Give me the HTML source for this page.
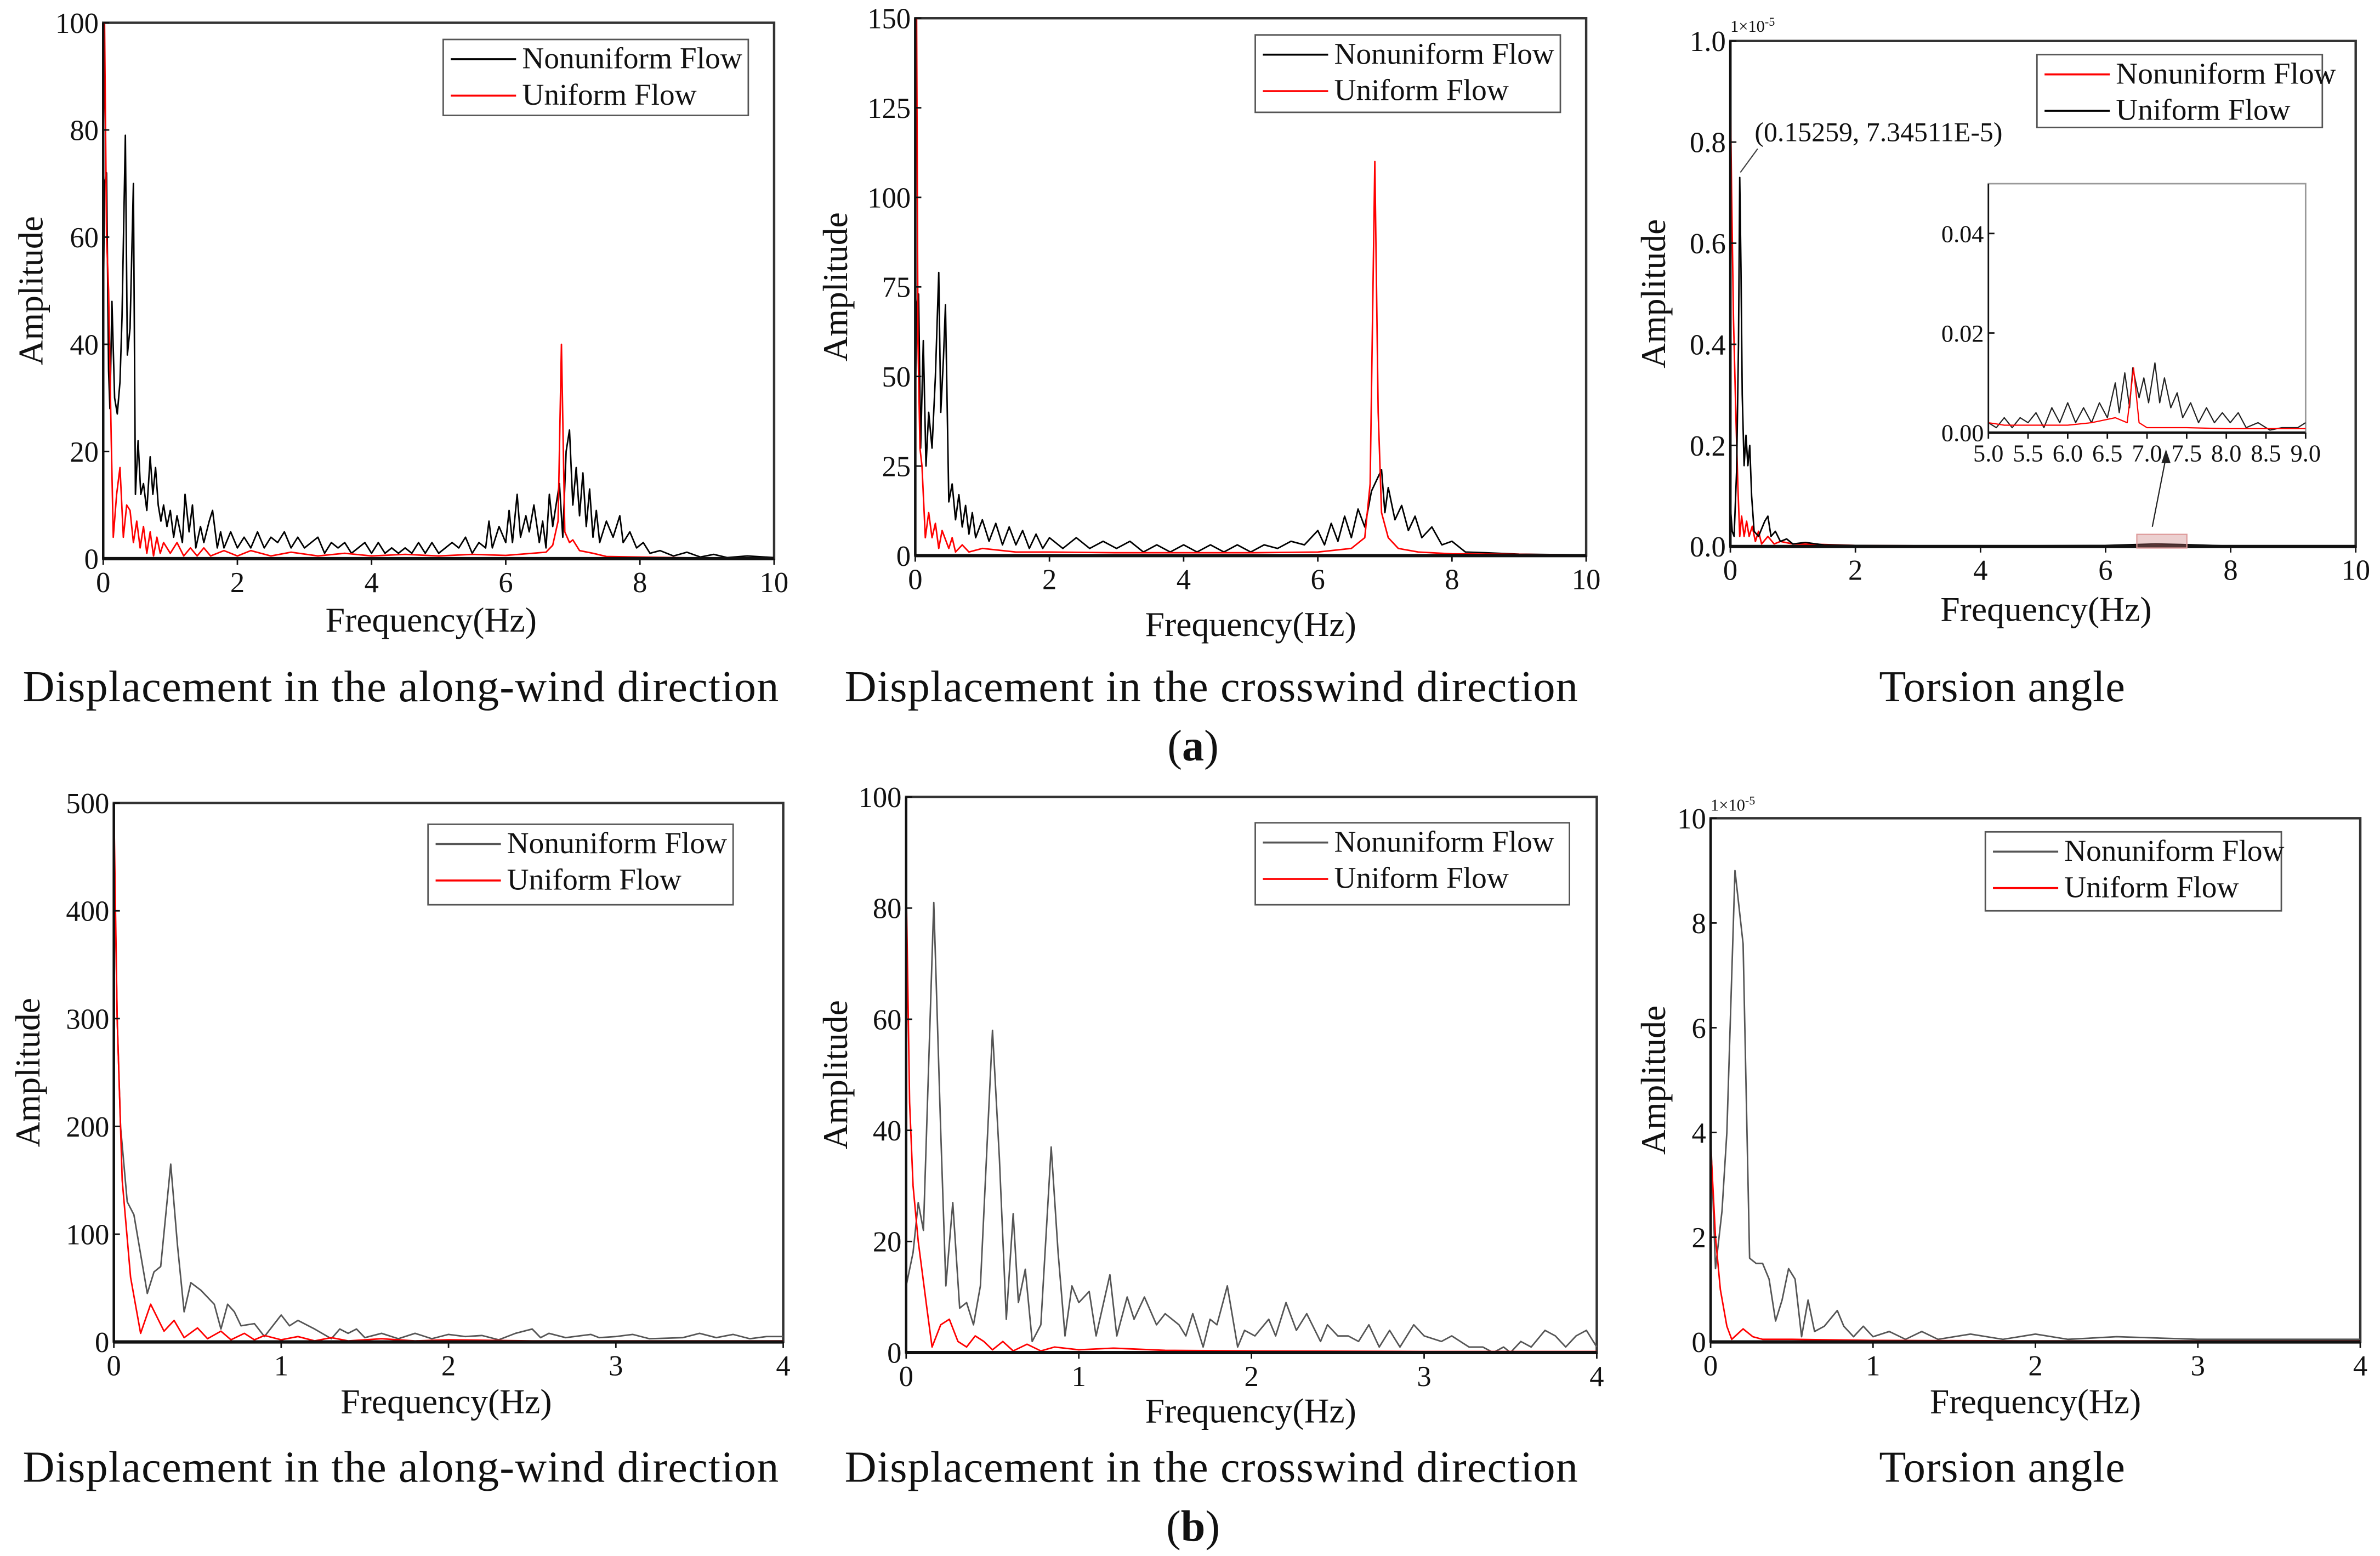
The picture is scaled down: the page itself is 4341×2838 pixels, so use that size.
<!DOCTYPE html>
<html><head><meta charset="utf-8"><style>
html,body{margin:0;padding:0;background:#fff;font-family:'Liberation Serif',serif;}
svg{display:block;font-family:'Liberation Serif',serif;}
svg text{font-family:'Liberation Serif',serif !important;fill:#111;}
</style></head><body>
<svg id="fig" width="4341" height="2838" viewBox="0 0 1568 1025" preserveAspectRatio="none" xmlns="http://www.w3.org/2000/svg" style="font-family:'Liberation Serif',serif">
<g font-size="29">
<text x="264" y="462" text-anchor="middle" textLength="498">Displacement in the along-wind direction</text>
<text x="798" y="462" text-anchor="middle" textLength="483">Displacement in the crosswind direction</text>
<text x="1319" y="462" text-anchor="middle" textLength="162">Torsion angle</text>
<text x="786" y="501" text-anchor="middle">(<tspan font-weight="bold">a</tspan>)</text>
<text x="264" y="976" text-anchor="middle" textLength="498">Displacement in the along-wind direction</text>
<text x="798" y="976" text-anchor="middle" textLength="483">Displacement in the crosswind direction</text>
<text x="1319" y="976" text-anchor="middle" textLength="162">Torsion angle</text>
<text x="786" y="1015" text-anchor="middle">(<tspan font-weight="bold">b</tspan>)</text>
</g>
</svg>
<script>
const a1N=[[0,45],[0.02,70],[0.05,72],[0.08,35],[0.1,28],[0.13,48],[0.17,30],[0.21,27],[0.25,33],[0.28,45],[0.33,79],[0.36,38],[0.4,43],[0.45,70],[0.48,12],[0.52,22],[0.56,12],[0.6,14],[0.65,9],[0.7,19],[0.74,12],[0.78,17],[0.82,10],[0.86,7],[0.9,10],[0.95,6],[1.0,9],[1.05,4],[1.1,8],[1.18,3],[1.22,12],[1.28,5],[1.33,10],[1.38,2],[1.45,6],[1.5,3],[1.58,7],[1.63,9],[1.7,2],[1.75,5],[1.8,2],[1.9,5],[2.0,2],[2.1,4],[2.2,2],[2.3,5],[2.4,2],[2.5,4],[2.6,3],[2.7,5],[2.8,2],[2.9,4],[3.0,2],[3.1,3],[3.2,4],[3.3,1],[3.4,3],[3.5,2],[3.6,3],[3.7,1],[3.8,2],[3.9,3],[4.0,1],[4.1,3],[4.2,1],[4.3,2],[4.4,1],[4.5,2],[4.6,1],[4.7,3],[4.8,1],[4.9,3],[5.0,1],[5.1,2],[5.2,3],[5.3,2],[5.4,4],[5.5,1],[5.6,3],[5.7,2],[5.75,7],[5.8,2],[5.9,6],[6.0,3],[6.05,9],[6.1,3],[6.17,12],[6.22,4],[6.3,8],[6.35,5],[6.42,10],[6.5,3],[6.55,7],[6.6,2],[6.65,12],[6.7,6],[6.75,10],[6.8,14],[6.85,4],[6.9,20],[6.95,24],[7.0,10],[7.05,17],[7.1,8],[7.15,16],[7.2,6],[7.25,13],[7.3,4],[7.35,9],[7.4,3],[7.5,7],[7.6,4],[7.7,8],[7.75,3],[7.85,5],[7.95,2],[8.05,3],[8.15,1],[8.3,1.5],[8.5,0.5],[8.7,1.2],[8.9,0.3],[9.1,0.8],[9.3,0.2],[9.6,0.5],[10,0.2]];
const a1U=[[0,70],[0.02,100],[0.05,60],[0.08,50],[0.12,22],[0.15,4],[0.2,12],[0.25,17],[0.3,4],[0.35,10],[0.4,9],[0.45,3],[0.5,7],[0.55,2],[0.6,6],[0.65,1],[0.7,5],[0.75,0.5],[0.8,4],[0.85,1],[0.9,3],[1.0,1],[1.1,3],[1.2,0.5],[1.3,2],[1.4,0.5],[1.5,2],[1.6,0.5],[1.8,1.5],[2.0,0.5],[2.2,1.5],[2.5,0.5],[2.8,1.2],[3.2,0.5],[3.6,1],[4,0.5],[4.5,0.8],[5,0.5],[5.5,0.8],[6,0.6],[6.4,1],[6.6,1.2],[6.7,2.5],[6.78,7],[6.83,40],[6.88,5],[6.95,3],[7.0,3.5],[7.1,1.5],[7.3,1],[7.5,0.4],[8,0.3],[9,0.1],[10,0.1]];
const a2N=[[0,40],[0.02,70],[0.05,73],[0.08,30],[0.12,60],[0.16,25],[0.2,40],[0.25,30],[0.3,50],[0.35,79],[0.38,40],[0.42,55],[0.45,70],[0.5,15],[0.55,20],[0.6,10],[0.65,17],[0.7,8],[0.75,14],[0.8,6],[0.85,12],[0.9,5],[1.0,10],[1.1,4],[1.2,9],[1.3,3],[1.4,8],[1.5,3],[1.6,7],[1.7,2],[1.8,6],[1.9,2],[2.0,5],[2.2,2],[2.4,5],[2.6,2],[2.8,4],[3.0,2],[3.2,4],[3.4,1],[3.6,3],[3.8,1],[4.0,3],[4.2,1],[4.4,3],[4.6,1],[4.8,3],[5.0,1],[5.2,3],[5.4,2],[5.6,4],[5.8,3],[6.0,7],[6.1,3],[6.2,9],[6.3,4],[6.4,11],[6.5,5],[6.6,13],[6.7,8],[6.8,18],[6.9,22],[6.95,24],[7.0,12],[7.05,19],[7.15,10],[7.25,14],[7.35,7],[7.45,11],[7.55,5],[7.7,8],[7.85,3],[8.0,4],[8.2,1],[8.5,0.8],[9,0.4],[10,0.2]];
const a2U=[[0,100],[0.02,150],[0.04,60],[0.07,30],[0.1,25],[0.15,5],[0.2,12],[0.25,5],[0.3,9],[0.35,2],[0.4,7],[0.5,2],[0.55,5],[0.6,1],[0.7,3],[0.8,1],[1,2],[1.5,1],[2,1],[3,0.8],[4,0.8],[5,0.8],[6,1],[6.5,2],[6.7,5],[6.78,20],[6.85,110],[6.9,40],[6.95,12],[7.05,5],[7.2,2],[7.5,1],[8,0.5],[10,0.2]];
const a3N=[[0,0.9],[0.02,0.7],[0.05,0.45],[0.09,0.25],[0.12,0.12],[0.15,0.02],[0.18,0.06],[0.22,0.02],[0.26,0.05],[0.3,0.02],[0.35,0.04],[0.4,0.01],[0.45,0.03],[0.5,0.005],[0.6,0.02],[0.7,0.005],[0.8,0.01],[1,0.005],[1.5,0.004],[2,0.002],[4,0.001],[6,0.001],[7,0.002],[8,0.0005],[10,0]];
const a3Ua=[[0,0.08],[0.03,0.03],[0.06,0.02],[0.1,0.15],[0.13,0.4],[0.15,0.73],[0.17,0.55],[0.19,0.3],[0.22,0.16],[0.25,0.22],[0.28,0.16],[0.31,0.2],[0.34,0.1],[0.38,0.03],[0.45,0.02],[0.55,0.05],[0.6,0.06],[0.65,0.02],[0.72,0.03],[0.8,0.01],[0.9,0.015],[1.0,0.005],[1.2,0.008],[1.5,0.003],[2,0.002],[4,0.001],[6,0.002],[6.8,0.005],[7.2,0.004],[8,0.001],[9,0.001],[10,0]];
const inN=[[5,0.002],[5.1,0.001],[5.2,0.003],[5.3,0.001],[5.4,0.003],[5.5,0.002],[5.6,0.004],[5.7,0.001],[5.8,0.005],[5.9,0.002],[6.0,0.006],[6.1,0.002],[6.2,0.005],[6.3,0.002],[6.4,0.006],[6.5,0.003],[6.6,0.01],[6.65,0.004],[6.72,0.012],[6.78,0.005],[6.82,0.013],[6.9,0.007],[6.96,0.011],[7.02,0.006],[7.1,0.014],[7.16,0.006],[7.22,0.011],[7.3,0.005],[7.38,0.008],[7.45,0.003],[7.55,0.006],[7.65,0.002],[7.75,0.005],[7.85,0.002],[7.95,0.004],[8.05,0.002],[8.15,0.004],[8.25,0.001],[8.4,0.002],[8.55,0.0005],[8.7,0.001],[8.9,0.001],[9,0.002]];
const inU=[[5,0.002],[5.2,0.0015],[5.5,0.0015],[6,0.0015],[6.3,0.002],[6.6,0.003],[6.75,0.002],[6.83,0.013],[6.9,0.002],[7,0.001],[7.5,0.001],[8,0.0008],[9,0.0008]];
const b1N=[[0,480],[0.02,300],[0.04,200],[0.08,130],[0.12,118],[0.2,45],[0.24,65],[0.28,70],[0.34,165],[0.38,90],[0.42,28],[0.46,55],[0.52,48],[0.6,35],[0.64,12],[0.68,35],[0.72,28],[0.76,15],[0.84,17],[0.9,5],[1.0,25],[1.05,15],[1.1,20],[1.2,12],[1.3,3],[1.35,12],[1.4,8],[1.45,12],[1.5,4],[1.6,8],[1.7,3],[1.8,8],[1.9,3],[2.0,7],[2.1,5],[2.2,6],[2.3,2],[2.4,8],[2.5,12],[2.55,4],[2.6,8],[2.7,4],[2.85,7],[2.9,4],[3.0,5],[3.1,7],[3.2,3],[3.4,4],[3.5,8],[3.6,4],[3.7,7],[3.8,3],[3.9,5],[4,5]];
const b1U=[[0,500],[0.02,300],[0.05,150],[0.1,60],[0.16,8],[0.22,35],[0.3,10],[0.36,20],[0.42,4],[0.5,13],[0.56,3],[0.64,10],[0.7,2],[0.78,8],[0.84,2],[0.9,6],[1.0,2],[1.1,5],[1.2,1],[1.3,4],[1.4,1],[1.6,3],[1.8,1],[2,2],[2.5,1],[3,1],[3.5,1],[4,1]];
const b2N=[[0,12],[0.04,18],[0.07,27],[0.1,22],[0.16,81],[0.2,40],[0.23,12],[0.27,27],[0.31,8],[0.35,9],[0.39,5],[0.43,12],[0.5,58],[0.54,35],[0.58,6],[0.62,25],[0.65,9],[0.69,15],[0.73,2],[0.78,5],[0.84,37],[0.88,18],[0.92,3],[0.96,12],[1.0,9],[1.06,11],[1.1,3],[1.18,14],[1.22,3],[1.28,10],[1.32,6],[1.38,10],[1.45,5],[1.5,7],[1.58,5],[1.62,3],[1.66,7],[1.72,1],[1.76,6],[1.8,5],[1.86,12],[1.92,1],[1.96,4],[2.02,3],[2.1,6],[2.14,3],[2.2,9],[2.26,4],[2.32,7],[2.4,2],[2.44,5],[2.5,3],[2.56,3],[2.62,2],[2.68,5],[2.74,1],[2.8,4],[2.86,1],[2.94,5],[3.0,3],[3.1,2],[3.16,3],[3.26,1],[3.34,1],[3.4,0],[3.46,1],[3.5,0],[3.56,2],[3.62,1],[3.7,4],[3.76,3],[3.82,1],[3.88,3],[3.94,4],[4,1]];
const b2U=[[0,85],[0.02,45],[0.04,30],[0.07,20],[0.12,8],[0.15,1],[0.2,5],[0.25,6],[0.3,2],[0.35,1],[0.4,3],[0.45,2],[0.5,0.5],[0.56,2],[0.62,0.3],[0.7,1.5],[0.78,0.3],[0.86,1],[1,0.5],[1.2,0.8],[1.5,0.4],[2,0.3],[3,0.2],[4,0.2]];
const b3N=[[0,4],[0.03,1.4],[0.07,2.5],[0.1,4],[0.13,7],[0.15,9],[0.2,7.6],[0.24,1.6],[0.28,1.5],[0.32,1.5],[0.36,1.2],[0.4,0.4],[0.44,0.8],[0.48,1.4],[0.52,1.2],[0.56,0.1],[0.6,0.8],[0.64,0.2],[0.7,0.3],[0.78,0.6],[0.82,0.3],[0.88,0.1],[0.94,0.3],[1.0,0.1],[1.1,0.2],[1.2,0.05],[1.3,0.2],[1.4,0.05],[1.6,0.15],[1.8,0.05],[2,0.15],[2.2,0.05],[2.5,0.1],[3,0.05],[3.5,0.05],[4,0.05]];
const b3U=[[0,3.8],[0.03,2],[0.06,1],[0.1,0.3],[0.13,0.05],[0.2,0.25],[0.26,0.1],[0.32,0.05],[0.5,0.05],[1,0.03],[2,0.02],[4,0.02]];
const a1Ticks=[0,20,40,60,80,100], a2Ticks=[0,25,50,75,100,125,150], a3Ticks=["0.0","0.2","0.4","0.6","0.8","1.0"];
const xTicks10=[0,2,4,6,8,10], xTicks4=[0,1,2,3,4];
const b1Ticks=[0,100,200,300,400,500], b2Ticks=[0,20,40,60,80,100], b3Ticks=[0,2,4,6,8,10];
const inXTicks=["5.0","5.5","6.0","6.5","7.0","7.5","8.0","8.5","9.0"], inYTicks=["0.00","0.02","0.04"];

const NS="http://www.w3.org/2000/svg", svg=document.getElementById('fig');
function el(tag,attrs,parent){const e=document.createElementNS(NS,tag);for(const k in attrs)e.setAttribute(k,attrs[k]);if(tag==='text'){e.setAttribute('font-family',"'Liberation Serif', serif");e.style.fontFamily="'Liberation Serif', serif";}(parent||svg).appendChild(e);return e;}
function panel(p){
  const g=el('g',{});
  
  
  const sx=v=>p.l+(v-p.x0)/(p.x1-p.x0)*(p.r-p.l), sy=v=>p.b-(v-p.y0)/(p.y1-p.y0)*(p.b-p.t);
  const fr=el('rect',{x:p.l,y:p.t,width:p.r-p.l,height:p.b-p.t,fill:'none',stroke:p.frameCol||'#333','stroke-width':p.fw||1.6},g);
  
  
  p.series.forEach(s=>{
    const d=s.data.map((q,i)=>(i?'L':'M')+sx(Math.min(q[0],p.x1)).toFixed(2)+','+sy(Math.min(q[1],p.y1)).toFixed(2)).join('');
    const pe=el('path',{d:d,fill:'none',stroke:s.col,'stroke-width':s.w||1,'stroke-linejoin':'round'},g);
    
    
  });
  el('line',{x1:p.l,y1:p.b,x2:p.r,y2:p.b,stroke:'#111','stroke-width':p.fw?p.fw+0.6:2.2},g);
  el('line',{x1:p.l,y1:p.t,x2:p.l,y2:p.b,stroke:'#111','stroke-width':p.fw||1.6},g);
  const fs=p.fs||19;
  p.xt.forEach(v=>{const x=sx(+v);el('line',{x1:x,y1:p.b,x2:x,y2:p.b+4,stroke:'#111','stroke-width':1},g);
    const t=el('text',{x:x,y:p.b+fs+3,'text-anchor':'middle','font-size':fs},g);t.textContent=v;
    
    });
  p.yt.forEach(v=>{const y=sy(+v);el('line',{x1:p.l,y1:y,x2:p.l+4,y2:y,stroke:'#111','stroke-width':1},g);
    const t=el('text',{x:p.l-3,y:y+fs*0.35,'text-anchor':'end','font-size':fs},g);t.textContent=v;
    
    });
  if(p.xtitle){const t=el('text',{x:p.xtitle[0],y:p.xtitle[1],'text-anchor':'middle','font-size':23},g);t.textContent='Frequency(Hz)';
    
    }
  if(p.ytitle){const t=el('text',{x:0,y:0,'text-anchor':'middle','font-size':23,transform:`translate(${p.ytitle},${(p.t+p.b)/2}) rotate(-90)`},g);t.textContent='Amplitude';
    
    }
  if(p.leg){const L=p.leg;const lg=el('g',{},g);
    
    
    el('rect',{x:L[0],y:L[1],width:L[2],height:L[3],fill:'#fff',stroke:'#555','stroke-width':1},lg);
    p.legItems.forEach((it,i)=>{const y=L[1]+13+i*24;
      el('line',{x1:L[0]+5,y1:y,x2:L[0]+48,y2:y,stroke:it[1],'stroke-width':1.3},lg);
      const t=el('text',{x:L[0]+52,y:y+6,'font-size':20},lg);t.textContent=it[0];
      
      });}
  return {sx,sy,g};
}
const R='#ff0000', K='#000', G='#555';
panel({name:'chart-a-along-wind',l:68,t:15,r:510,b:368,x0:0,x1:10,y0:0,y1:100,xt:xTicks10,yt:a1Ticks,xtitle:[284,416],ytitle:28,
  leg:[292,26,201,50],legItems:[['Nonuniform Flow',K],['Uniform Flow',R]],
  series:[{name:'series-nonuniform',data:a1N,col:K},{name:'series-uniform',data:a1U,col:R}]});
panel({name:'chart-a-crosswind',l:603,t:12,r:1045,b:366,x0:0,x1:10,y0:0,y1:150,xt:xTicks10,yt:a2Ticks,xtitle:[824,419],ytitle:558,
  leg:[827,23,201,51],legItems:[['Nonuniform Flow',K],['Uniform Flow',R]],
  series:[{name:'series-nonuniform',data:a2N,col:K},{name:'series-uniform',data:a2U,col:R}]});
const P3=panel({name:'chart-a-torsion',l:1140,t:27,r:1552,b:360,x0:0,x1:10,y0:0,y1:1,xt:xTicks10,yt:a3Ticks,xtitle:[1348,409],ytitle:1097,
  leg:[1342,36,188,48],legItems:[['Nonuniform Flow',R],['Uniform Flow',K]],
  series:[{name:'series-nonuniform',data:a3N,col:R},{name:'series-uniform',data:a3Ua,col:K}]});
{const t=el('text',{x:1140,y:21,'font-size':11},P3.g);t.innerHTML='1×10<tspan dy="-4" font-size="8">-5</tspan>';
 
 
 const a=el('text',{x:1156,y:93,'font-size':18},P3.g);a.textContent='(0.15259, 7.34511E-5)';
 
 
 el('line',{x1:1158,y1:98,x2:P3.sx(0.16),y2:P3.sy(0.74),stroke:'#444','stroke-width':0.8},P3.g);
 const hb=el('rect',{x:P3.sx(6.5),y:352,width:P3.sx(7.3)-P3.sx(6.5),height:9,fill:'rgba(200,120,120,0.35)',stroke:'#d99','stroke-width':0.8},P3.g);
 
 
 el('line',{x1:1418,y1:347,x2:1427,y2:301,stroke:'#222','stroke-width':0.8},P3.g);
 el('path',{d:'M1427,296 L1424,305 L1430,305 Z',fill:'#222'},P3.g);}
panel({name:'chart-a-torsion-inset',l:1310,t:121,r:1519,b:285,x0:5,x1:9,y0:0,y1:0.05,xt:inXTicks,yt:inYTicks,fs:16,frameCol:'#999',fw:1,
  series:[{name:'inset-series-uniform',data:inN,col:'#222',w:0.8},{name:'inset-series-nonuniform',data:inU,col:R,w:0.8}]});
panel({name:'chart-b-along-wind',l:75,t:529,r:516,b:884,x0:0,x1:4,y0:0,y1:500,xt:xTicks4,yt:b1Ticks,xtitle:[294,931],ytitle:26,
  leg:[282,543,201,53],legItems:[['Nonuniform Flow',G],['Uniform Flow',R]],
  series:[{name:'series-nonuniform',data:b1N,col:G},{name:'series-uniform',data:b1U,col:R}]});
panel({name:'chart-b-crosswind',l:597,t:525,r:1052,b:891,x0:0,x1:4,y0:0,y1:100,xt:xTicks4,yt:b2Ticks,xtitle:[824,937],ytitle:558,
  leg:[827,542,207,54],legItems:[['Nonuniform Flow',G],['Uniform Flow',R]],
  series:[{name:'series-nonuniform',data:b2N,col:G},{name:'series-uniform',data:b2U,col:R}]});
const P6=panel({name:'chart-b-torsion',l:1127,t:539,r:1555,b:884,x0:0,x1:4,y0:0,y1:10,xt:xTicks4,yt:b3Ticks,xtitle:[1341,931],ytitle:1097,
  leg:[1308,548,195,52],legItems:[['Nonuniform Flow',G],['Uniform Flow',R]],
  series:[{name:'series-nonuniform',data:b3N,col:G},{name:'series-uniform',data:b3U,col:R}]});
{const t=el('text',{x:1127,y:534,'font-size':11},P6.g);t.innerHTML='1×10<tspan dy="-4" font-size="8">-5</tspan>';
 
 }
</script>
</body></html>
